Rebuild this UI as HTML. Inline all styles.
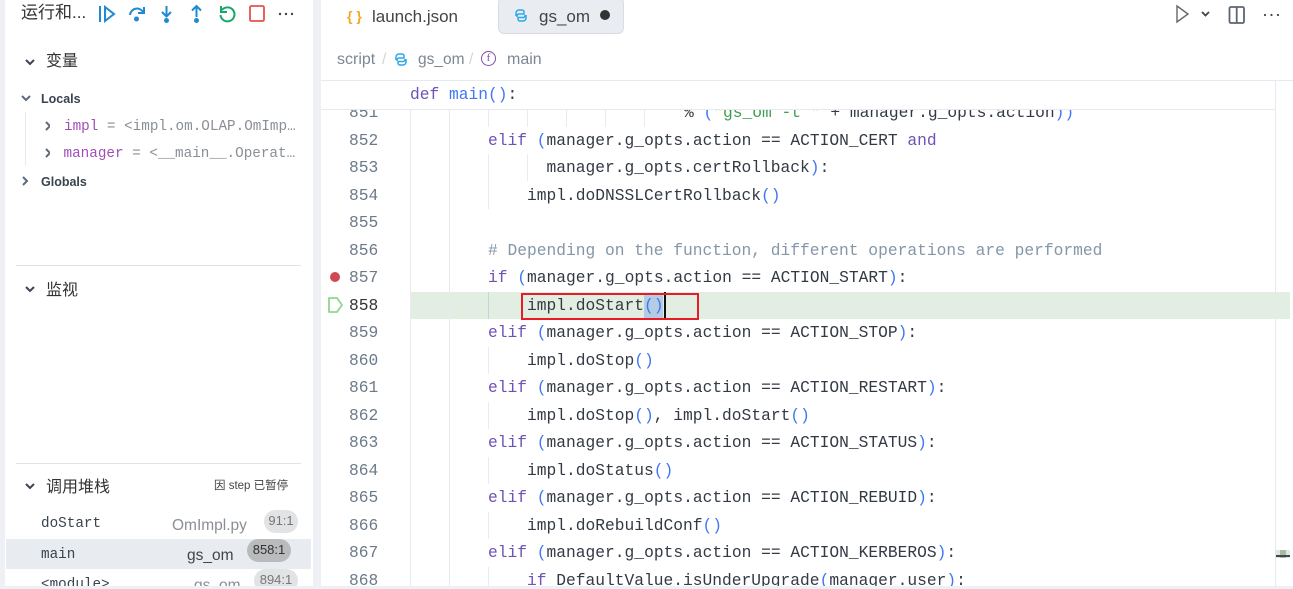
<!DOCTYPE html>
<html><head><meta charset="utf-8"><style>
html,body{margin:0;padding:0;background:#fff}
#r{position:relative;width:1293px;height:589px;overflow:hidden;background:#fff;font-family:"Liberation Sans","Noto Sans CJK SC",sans-serif;color:#333}
#r div,#r svg{position:absolute}
.t{white-space:pre;line-height:20px}
.m{font-family:"Liberation Mono","DejaVu Sans Mono",monospace;white-space:pre;line-height:20px}
.c{left:0;font-size:16.25px;color:#333a44;font-family:"Liberation Mono",monospace;white-space:pre;line-height:20px}
.n{left:349px;width:30px;font-size:16.25px;color:#6b7a8a;font-family:"Liberation Mono",monospace;line-height:20px}
.g{width:1px;background:#e8ebef}
i{font-style:normal;color:#6f52b5}
b{font-weight:normal;color:#3f78f0}
.k{color:#a04fb5}.v{color:#8a8f96}
</style></head><body><div id="r">
<!-- sidebar frame -->
<div style="left:0;top:0;width:5px;height:589px;background:#eef0f6"></div>
<div style="left:313px;top:0;width:8px;height:589px;background:#eef0f6"></div>
<div style="left:0;top:586px;width:1293px;height:3px;background:#eef0f6"></div>
<div class="t" style="left:21px;top:3px;font-size:17px;color:#333">运行和...</div>
<svg style="left:95px;top:2px" width="205" height="24" viewBox="0 0 205 24" fill="none">
<path d="M5 4v16" stroke="#1f8ad2" stroke-width="2"/><path d="M10 5l9 7-9 7z" stroke="#1f8ad2" stroke-width="2"/>
<path d="M35 13a7 7 0 0 1 13-3" stroke="#1f8ad2" stroke-width="2"/><path d="M49 5v6h-6" stroke="#1f8ad2" stroke-width="2"/><circle cx="41.500" cy="17" r="2.500" fill="#1f8ad2"/>
<path d="M71.500 4v10M67 10l4.500 4.500L76 10" stroke="#1f8ad2" stroke-width="2"/><circle cx="71.500" cy="18.500" r="2.500" fill="#1f8ad2"/>
<path d="M101.500 15V4M97 8.500L101.500 4l4.500 4.500" stroke="#1f8ad2" stroke-width="2"/><circle cx="101.500" cy="18.500" r="2.500" fill="#1f8ad2"/>
<path d="M127 8a7 7 0 1 1-1.500 5" stroke="#16a868" stroke-width="2"/><path d="M126 4v6h6" stroke="#16a868" stroke-width="2"/>
<rect x="155" y="4" width="14" height="15" rx="1.500" stroke="#e8504a" stroke-width="1.800"/>
<circle cx="185" cy="12" r="1.200" fill="#444"/><circle cx="191" cy="12" r="1.200" fill="#444"/><circle cx="197" cy="12" r="1.200" fill="#444"/>
</svg>
<svg style="left:20px;top:51px" width="30" height="140" viewBox="0 0 30 140" fill="none" stroke="#5c6b7c" stroke-width="2">
<path d="M6 9l4 4 4-4" stroke="#3c4654"/>
<path d="M2 45l4 4 4-4"/>
<path d="M26 71l4 4-4 4"/><path d="M26 98l4 4-4 4"/>
<path d="M3 126l4 4-4 4"/>
</svg>
<div class="t" style="left:46px;top:52px;font-size:16px;color:#333">变量</div>
<div class="t" style="left:41px;top:89px;font-size:12.500px;font-weight:bold;color:#3a4350">Locals</div>
<div class="g" style="left:25px;top:112px;height:54px"></div>
<div class="m" style="left:64px;top:117px;font-size:14.300px;width:240px;overflow:hidden"><span class="k">impl</span> <span class="v">= &lt;impl.om.OLAP.OmImp…</span></div>
<div class="m" style="left:63.500px;top:144px;font-size:14.300px;width:241px;overflow:hidden"><span class="k">manager</span> <span class="v">= &lt;__main__.Operat…</span></div>
<div class="t" style="left:41px;top:172px;font-size:12.500px;font-weight:bold;color:#3a4350">Globals</div>
<div style="left:16px;top:265px;width:285px;height:1px;background:#dfe2e8"></div>
<svg style="left:24px;top:285px" width="16" height="12" fill="none" stroke="#3c4654" stroke-width="2"><path d="M2 2l4 4 4-4"/></svg>
<div class="t" style="left:46px;top:281px;font-size:16px;color:#333">监视</div>
<div style="left:16px;top:463px;width:285px;height:1px;background:#dfe2e8"></div>
<svg style="left:24px;top:482px" width="16" height="12" fill="none" stroke="#3c4654" stroke-width="2"><path d="M2 2l4 4 4-4"/></svg>
<div class="t" style="left:46px;top:478px;font-size:16px;color:#333">调用堆栈</div>
<div class="t" style="left:214px;top:476px;font-size:11.500px;color:#444">因 step 已暂停</div>
<div style="left:6px;top:539px;width:305px;height:30px;background:#e8ebf0"></div>
<div class="m" style="left:41px;top:514px;font-size:14.300px;color:#3a4350">doStart</div>
<div class="t" style="left:172px;top:516px;font-size:15.500px;color:#8a8f96">OmImpl.py</div>
<div class="t" style="left:264px;top:510px;width:34px;height:23px;line-height:22px;border-radius:12px;background:#e2e3e5;color:#777;font-size:13px;text-align:center">91:1</div>
<div class="m" style="left:41px;top:545px;font-size:14.300px;color:#3a4350">main</div>
<div class="t" style="left:187px;top:546px;font-size:15.500px;color:#444">gs_om</div>
<div class="t" style="left:247px;top:539px;width:44px;height:23px;line-height:22px;border-radius:12px;background:#b9bbbd;color:#333;font-size:13px;text-align:center">858:1</div>
<div class="m" style="left:41px;top:575px;font-size:14.300px;color:#3a4350">&lt;module&gt;</div>
<div class="t" style="left:194px;top:576px;font-size:15.500px;color:#8a8f96">gs_om</div>
<div class="t" style="left:254px;top:569px;width:44px;height:23px;line-height:22px;border-radius:12px;background:#e2e3e5;color:#777;font-size:13px;text-align:center">894:1</div>
<div style="left:0;top:586px;width:321px;height:3px;background:#eef0f6"></div>
<!-- tabs -->
<div class="t" style="left:347px;top:6px;font-size:14px;font-weight:bold;color:#f5a623">{ }</div>
<div class="t" style="left:372px;top:7px;font-size:17px;color:#444">launch.json</div>
<div style="left:498px;top:-3px;width:124px;height:35px;background:#e9ecf1;border:1px solid #d8dce3;border-radius:6px"></div>
<svg style="left:513px;top:8px" width="16" height="16" fill="none" stroke="#2aa9e8" stroke-width="1.500"><path d="M3 8V5a3 3 0 0 1 3-3h3a2 2 0 0 1 2 2v2H6a2 2 0 0 0-2 2v1"/><path d="M13 7v3a3 3 0 0 1-3 3H7a2 2 0 0 1-2-2V9.500h5a2 2 0 0 0 2-2V7"/></svg>
<div class="t" style="left:539px;top:7px;font-size:17px;color:#444">gs_om</div>
<div style="left:600px;top:10px;width:10px;height:10px;border-radius:50%;background:#333"></div>
<svg style="left:1170px;top:2px" width="123" height="26" fill="none">
<path d="M7 7l11 8-11 8z" stroke="#666" stroke-width="1.400" transform="translate(0,-3)"/>
<path d="M32 10l3.500 3.500L39 10" stroke="#444" stroke-width="1.800"/>
<rect x="59.500" y="5" width="14.500" height="16" rx="1.500" stroke="#5c6570" stroke-width="1.800"/><path d="M66.700 5v16" stroke="#5c6570" stroke-width="1.800"/>
<circle cx="95" cy="13" r="1.100" fill="#444"/><circle cx="101.500" cy="13" r="1.100" fill="#444"/><circle cx="108" cy="13" r="1.100" fill="#444"/>
</svg>
<!-- breadcrumb -->
<div class="t" style="left:337px;top:50px;font-size:16px;color:#7b8794">script</div>
<div class="t" style="left:382px;top:50px;font-size:15.500px;color:#d0d4da">/</div>
<svg style="left:393px;top:52px" width="16" height="16" fill="none" stroke="#2aa9e8" stroke-width="1.500"><path d="M3 8V5a3 3 0 0 1 3-3h3a2 2 0 0 1 2 2v2H6a2 2 0 0 0-2 2v1"/><path d="M13 7v3a3 3 0 0 1-3 3H7a2 2 0 0 1-2-2V9.500h5a2 2 0 0 0 2-2V7"/></svg>
<div class="t" style="left:418px;top:50px;font-size:15.500px;color:#7b8794">gs_om</div>
<div class="t" style="left:469px;top:50px;font-size:15.500px;color:#d0d4da">/</div>
<div class="t" style="left:481px;top:51px;width:13px;height:13px;line-height:13px;border:1.500px solid #7d4fa8;border-radius:50%;font-size:11px;text-align:center;color:#7d4fa8;font-family:'Liberation Serif',serif">f</div>
<div class="t" style="left:507px;top:50px;font-size:16px;color:#7b8794">main</div>
<div style="left:321px;top:80px;width:972px;height:1px;background:#e7e9f0"></div>
<div style="left:321px;top:109px;width:955px;height:1px;background:#e7e9f0"></div>
<div style="left:1275px;top:81px;width:1px;height:505px;background:#e7e9f0"></div>
<!-- current line -->
<div style="left:410px;top:292px;width:880px;height:27px;background:#e3eee3"></div>
<div style="left:644px;top:293px;width:19px;height:26px;background:#b4cce4"></div>
<div style="left:664px;top:292px;width:2px;height:27px;background:#111"></div>
<div style="left:521px;top:293px;width:174px;height:23px;border:2px solid #e81c24"></div>
<!-- indent guides -->
<div class="g" style="left:410px;top:110px;height:476px"></div>
<div class="g" style="left:449px;top:110px;height:476px"></div>
<div class="g" style="left:488px;top:110px;height:17px"></div><div class="g" style="left:527px;top:110px;height:17px"></div><div class="g" style="left:566px;top:110px;height:17px"></div><div class="g" style="left:605px;top:110px;height:17px"></div><div class="g" style="left:644px;top:110px;height:17px"></div>
<div class="g" style="left:488px;top:154px;height:55px"></div><div class="g" style="left:527px;top:154px;height:27px"></div>
<div class="g" style="left:488px;top:292px;height:27px;background:#c5d3dc"></div>
<div class="g" style="left:488px;top:347px;height:27px"></div><div class="g" style="left:488px;top:402px;height:27px"></div><div class="g" style="left:488px;top:457px;height:27px"></div><div class="g" style="left:488px;top:512px;height:27px"></div><div class="g" style="left:488px;top:567px;height:19px"></div>
<!-- code clip region for 851 -->
<div style="left:321px;top:110px;width:954px;height:476px;overflow:hidden">
<div class="n" style="left:28px;top:-7px">851</div>
<div class="c" style="left:363px;top:-7px"><span>% </span><b>(</b><span style="color:#3f9d4b">"gs_om -t "</span> + manager.g_opts.action<b>))</b></div>
</div>
<div class="c" style="left:410px;top:85px"><i>def</i> <b>main()</b>:</div>
<div class="n" style="top:131px">852</div><div class="c" style="left:488px;top:131px"><i>elif</i> <b>(</b>manager.g_opts.action == ACTION_CERT <i>and</i></div>
<div class="n" style="top:158px">853</div><div class="c" style="left:546.500px;top:158px">manager.g_opts.certRollback<b>)</b>:</div>
<div class="n" style="top:186px">854</div><div class="c" style="left:527px;top:186px">impl.doDNSSLCertRollback<b>()</b></div>
<div class="n" style="top:213px">855</div>
<div class="n" style="top:241px">856</div><div class="c" style="left:488px;top:241px;color:#8496a8"># Depending on the function, different operations are performed</div>
<div class="n" style="top:268px">857</div><div class="c" style="left:488px;top:268px"><i>if</i> <b>(</b>manager.g_opts.action == ACTION_START<b>)</b>:</div>
<div class="n" style="top:296px;color:#333">858</div><div class="c" style="left:527px;top:296px">impl.doStart<b>()</b></div>
<div class="n" style="top:323px">859</div><div class="c" style="left:488px;top:323px"><i>elif</i> <b>(</b>manager.g_opts.action == ACTION_STOP<b>)</b>:</div>
<div class="n" style="top:351px">860</div><div class="c" style="left:527px;top:351px">impl.doStop<b>()</b></div>
<div class="n" style="top:378px">861</div><div class="c" style="left:488px;top:378px"><i>elif</i> <b>(</b>manager.g_opts.action == ACTION_RESTART<b>)</b>:</div>
<div class="n" style="top:406px">862</div><div class="c" style="left:527px;top:406px">impl.doStop<b>()</b>, impl.doStart<b>()</b></div>
<div class="n" style="top:433px">863</div><div class="c" style="left:488px;top:433px"><i>elif</i> <b>(</b>manager.g_opts.action == ACTION_STATUS<b>)</b>:</div>
<div class="n" style="top:461px">864</div><div class="c" style="left:527px;top:461px">impl.doStatus<b>()</b></div>
<div class="n" style="top:488px">865</div><div class="c" style="left:488px;top:488px"><i>elif</i> <b>(</b>manager.g_opts.action == ACTION_REBUID<b>)</b>:</div>
<div class="n" style="top:516px">866</div><div class="c" style="left:527px;top:516px">impl.doRebuildConf<b>()</b></div>
<div class="n" style="top:543px">867</div><div class="c" style="left:488px;top:543px"><i>elif</i> <b>(</b>manager.g_opts.action == ACTION_KERBEROS<b>)</b>:</div>
<div class="n" style="top:571px">868</div><div class="c" style="left:527px;top:571px"><i>if</i> DefaultValue.isUnderUpgrade<b>(</b>manager.user<b>)</b>:</div>
<div style="left:321px;top:586px;width:972px;height:3px;background:#eef0f6"></div>
<!-- gutter -->
<div style="left:330px;top:272px;width:10px;height:10px;border-radius:50%;background:#cf4a50"></div>
<svg style="left:327px;top:296px" width="18" height="18" fill="none"><path d="M2 2h8l5 7-5 7H2z" stroke="#8fd68f" stroke-width="1.800" stroke-linejoin="round"/></svg>
<!-- minimap marks -->
<div style="left:1276px;top:550px;width:14px;height:8px;background:#dfe9df"></div>
<div style="left:1280px;top:550px;width:6px;height:8px;background:#a9b8a9"></div>
<div style="left:1276px;top:555px;width:14px;height:2px;background:#3f4a44"></div>
</div></body></html>
